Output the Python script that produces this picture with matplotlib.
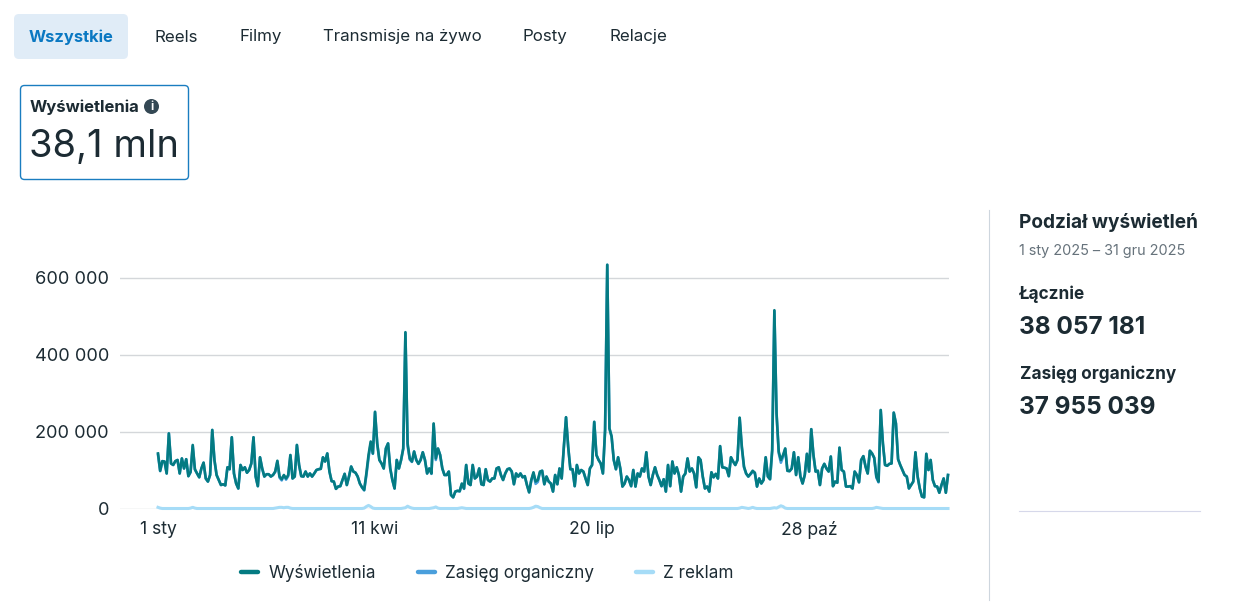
import matplotlib
matplotlib.use("Agg")
import matplotlib.pyplot as plt
from matplotlib.lines import Line2D
from matplotlib.patches import FancyBboxPatch, Circle
import numpy as np

plt.rcParams['font.family'] = ['Inter', 'DejaVu Sans']

views_k = [
 143,98,123,122,91,195,117,113,123,126,91,130,104,128,84,95,165,102,91,81,
 104,119,78,70,87,204,126,87,74,61,63,60,107,102,185,91,65,52,113,100,
 107,93,100,117,185,83,58,133,104,83,89,89,83,87,96,124,83,76,87,78,
 87,139,78,83,165,113,84,83,96,83,91,83,91,100,102,103,133,122,143,96,
 71,70,51,57,58,74,90,61,83,109,96,93,83,65,55,48,91,139,174,143,
 251,169,126,117,104,156,169,104,74,52,126,104,126,156,458,169,130,122,148,126,
 116,126,146,126,91,104,91,221,130,156,139,104,87,87,96,35,29,44,46,45,
 65,52,113,65,61,113,78,83,104,63,61,102,74,70,78,78,104,107,87,74,
 91,102,104,96,63,91,83,91,81,84,61,42,74,94,70,74,96,98,63,83,
 70,65,44,87,63,104,78,160,237,160,102,102,58,113,91,100,96,78,61,104,
 113,225,139,126,117,91,204,633,208,187,126,102,133,104,57,65,83,74,58,100,
 57,91,83,104,96,146,83,61,87,107,87,74,58,76,44,113,58,122,91,107,
 87,
 44,83,91,130,96,104,91,55,133,126,83,52,57,44,94,81,90,78,162,107,
 106,104,84,133,122,113,126,236,161,109,91,83,90,98,93,57,78,65,74,133,
 83,76,152,515,247,148,126,139,156,98,97,104,146,87,133,83,65,87,142,96,
 206,139,96,98,61,104,116,104,96,135,58,70,67,158,100,96,57,57,58,52,
 96,87,68,126,136,109,91,150,143,132,83,70,256,169,113,111,116,117,249,221,
 128,113,100,87,83,52,61,70,146,83,52,31,29,142,100,126,74,58,57,41,
 61,78,41,87,
]
ads_k = [
 3,1,0,0,0,0,0,0,0,0,0,0,0,0,0,1,3,1,0,0,
 0,0,0,0,0,0,0,0,0,0,0,0,0,0,0,0,0,0,0,0,
 0,0,0,0,0,0,0,0,0,0,0,0,0,0,1,2,3,3,2,3,
 3,1,0,0,0,0,0,0,0,0,0,0,0,0,0,0,0,0,0,0,
 0,0,0,0,0,0,0,0,0,0,0,0,0,0,0,1,5,8,5,1,
 0,0,0,0,0,0,0,0,0,0,0,0,0,1,2,6,3,1,0,0,
 0,0,0,0,0,0,1,2,4,1,0,0,0,0,0,0,0,0,0,1,
 2,1,0,0,0,0,0,0,0,0,0,0,0,0,0,0,0,0,0,0,
 0,0,0,0,0,0,0,0,0,0,0,0,1,3,6,5,2,0,0,0,
 0,0,0,0,0,0,0,0,0,0,0,0,0,0,0,0,0,0,0,0,
 0,0,0,0,0,0,0,0,0,0,0,0,0,0,0,0,0,0,0,0,
 0,0,0,0,0,0,0,0,0,0,0,0,0,0,0,0,0,0,0,0,
 0,0,0,0,0,0,0,0,0,0,0,0,0,0,0,0,0,0,0,0,
 0,0,0,0,0,0,0,0,1,3,2,1,0,1,3,1,0,0,0,0,
 0,0,0,1,2,1,4,7,5,1,0,0,0,0,0,0,0,0,0,0,
 0,0,0,0,0,0,0,0,0,0,0,0,0,0,0,0,0,0,0,0,
 0,0,0,0,0,0,0,0,0,0,1,3,2,1,0,0,0,0,0,0,
 0,0,0,0,0,0,0,0,0,0,0,0,0,0,0,0,0,0,0,0,
 0,0,0,0,0,
]
assert len(views_k) == 365, len(views_k)
assert len(ads_k) == 365, len(ads_k)

days = np.arange(365)
views = np.array(views_k) * 1000
ads = np.array(ads_k) * 1000
organic = views - ads

y_ticks = [0, 200000, 400000, 600000]
y_labels = ['0', '200 000', '400 000', '600 000']
x_ticks = [0, 100, 200, 300]
x_labels = ['1 sty', '11 kwi', '20 lip', '28 paź']
tabs = [('Reels', 176), ('Filmy', 260.5), ('Transmisje na żywo', 402), ('Posty', 544.5), ('Relacje', 638.5)]

W, H = 1233, 610
INK = '#1c2b33'
fig = plt.figure(figsize=(W / 100, H / 100), dpi=100, facecolor='white')

# Page furniture, in pixel coordinates
ui = fig.add_axes([0, 0, 1, 1])
ui.set_xlim(0, W)
ui.set_ylim(H, 0)
ui.axis('off')

ui.add_patch(FancyBboxPatch((14, 14), 114, 45, boxstyle='round,pad=0,rounding_size=5', lw=0, fc='#e0ecf7'))
ui.text(71, 37, 'Wszystkie', ha='center', va='center', fontsize=11.9, fontweight='bold', color='#0a78c2')
for label, cx in tabs:
    ui.text(cx, 37, label, ha='center', va='center', fontsize=12.2, color=INK)

ui.add_patch(FancyBboxPatch((20.5, 85.5), 168, 94, boxstyle='round,pad=0,rounding_size=4', lw=1.0,
                            ec='#1a7dc0', fc='white'))
ui.text(29.5, 107, 'Wyświetlenia', ha='left', va='center', fontsize=12, fontweight='bold', color=INK)
ui.add_patch(Circle((151.5, 106.5), 7.5, fc='#344854', ec='none'))
ui.text(151.5, 106.5, 'i', ha='center', va='center', fontsize=8.5, fontweight='bold', color='white')
ui.text(29, 147.5, '38,1 mln', ha='left', va='center', fontsize=27.5, fontweight='normal', color=INK)

ui.plot([988.5, 988.5], [210, 600], color='#ced6de', lw=0.8)
ui.text(1019, 222.5, 'Podział wyświetleń', ha='left', va='center', fontsize=13.7, fontweight='bold', color=INK)
ui.text(1019, 250.5, '1 sty 2025 – 31 gru 2025', ha='left', va='center', fontsize=10.4, color='#66727b')
ui.text(1019, 294, 'Łącznie', ha='left', va='center', fontsize=12.4, fontweight='bold', color=INK)
ui.text(1019, 327.5, '38 057 181', ha='left', va='center', fontsize=17.6, fontweight='bold', color=INK)
ui.text(1020, 374, 'Zasięg organiczny', ha='left', va='center', fontsize=12.4, fontweight='bold', color=INK)
ui.text(1019, 407, '37 955 039', ha='left', va='center', fontsize=17.5, fontweight='bold', color=INK)
ui.plot([1019, 1200], [510.5, 510.5], color='#d6d8ea', lw=0.8)

# Chart
left, right, top, bottom = 120, 948.5, 262, 508.5
ax = fig.add_axes([left / W, 1 - bottom / H, (right - left) / W, (bottom - top) / H])
ax.patch.set_alpha(0)
px_per_day = (948 - 158) / 364
ax.set_xlim((left - 158) / px_per_day, (right - 158) / px_per_day)
ax.set_ylim(0, (bottom - top) / 77 * 200000)
for s in ax.spines.values():
    s.set_visible(False)
ax.set_yticks(y_ticks, y_labels)
ax.set_xticks(x_ticks, x_labels)
ax.tick_params(axis='y', length=0, pad=8, labelsize=13.1, labelcolor=INK)
ax.tick_params(axis='x', length=0, pad=9, labelsize=12.6, labelcolor=INK)
ax.grid(axis='y', color='#d4d7da', lw=1)
ax.set_axisbelow(True)

TEAL, BLUE, LIGHT = '#047b82', '#4a9fdc', '#a6dcf7'
ax.plot(days, organic, color=BLUE, lw=1.9, solid_joinstyle='round', clip_on=False, zorder=3)
ax.plot(days, views, color=TEAL, lw=1.9, solid_joinstyle='round', clip_on=False, zorder=4)
ax.plot(days, ads, color=LIGHT, lw=2.2, solid_joinstyle='round', clip_on=False, zorder=5)

handles = [Line2D([], [], color=c, lw=3.2, solid_capstyle='round') for c in (TEAL, BLUE, LIGHT)]
ax.legend(handles, ['Wyświetlenia', 'Zasięg organiczny', 'Z reklam'], ncol=3, frameon=False,
          loc='center', bbox_to_anchor=((487.5 - left) / (right - left), (bottom - 572.5) / (bottom - top)),
          fontsize=12.3, labelcolor=INK, handlelength=1.0, handletextpad=0.6, columnspacing=2.45,
          borderpad=0, borderaxespad=0)

fig.savefig('out.png', dpi=100, facecolor='white')
